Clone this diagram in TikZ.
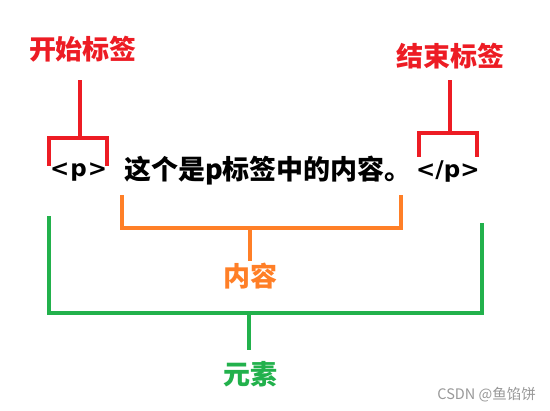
\documentclass[tikz,border=0pt]{standalone}
\usepackage{fontspec}
\setmainfont{Noto Sans CJK SC}
\newfontfamily\cjk{Noto Sans CJK SC}
\newfontfamily\tagfont{DejaVu Sans}
\definecolor{pred}{HTML}{ED1C24}
\definecolor{porange}{HTML}{FF7F27}
\definecolor{pgreen}{HTML}{22B14C}
\definecolor{wm}{HTML}{999999}
\begin{document}
\begin{tikzpicture}[x=1pt,y=-1pt,
  lbl/.style={font=\cjk\bfseries\fontsize{27}{30}\selectfont, inner sep=0pt},
  main/.style={font=\cjk\bfseries\fontsize{27}{30}\selectfont, inner sep=0pt, text=black},
  tagtxt/.style={font=\tagfont\bfseries\fontsize{23}{28}\selectfont, inner sep=0pt, text=black},
  br/.style={line width=4pt, line cap=rect, line join=miter}]
\useasboundingbox[fill=white] (0,0) rectangle (550,411);
% labels
\node[lbl, text=pred] (start) at (83,49) {开始标签};
\node[lbl, text=pred] (end) at (450,56) {结束标签};
\node[lbl, text=porange] (content) at (250,276) {内容};
\node[lbl, text=pgreen] (element) at (250,374) {元素};
% main text
\node[tagtxt, anchor=west] (ptag) at (50,172) {<\kern1pt p\kern1pt>};
\node[main, anchor=west] (txt) at (124,171) {这个是p标签中的内容。};
\node[tagtxt, anchor=west] (ctag) at (416,172) {</p>};
\node[font=\cjk\fontsize{14.5}{16}\selectfont, text=wm, anchor=east, inner sep=0pt] (wmk) at (536,395) {CSDN @鱼馅饼};
% red start bracket
\coordinate (s1) at (80,82);
\coordinate (s2) at (80,138);
\draw[br, pred] (49,164) -- (49,138) -- (107,138) -- (107,164);
\draw[br, pred] (s1) -- (s2);
% red end bracket
\coordinate (e1) at (450,82);
\coordinate (e2) at (450,133);
\draw[br, pred] (419,155) -- (419,133) -- (477,133) -- (477,155);
\draw[br, pred] (e1) -- (e2);
% orange content bracket
\coordinate (c1) at (250,228);
\coordinate (c2) at (250,259);
\draw[br, porange] (122,197) -- (122,228) -- (401,228) -- (401,197);
\draw[br, porange] (c1) -- (c2);
% green element bracket
\coordinate (g1) at (249,313);
\coordinate (g2) at (249,348);
\draw[br, pgreen] (49,218) -- (49,313) -- (482,313) -- (482,225);
\draw[br, pgreen] (g1) -- (g2);
\end{tikzpicture}
\end{document}
